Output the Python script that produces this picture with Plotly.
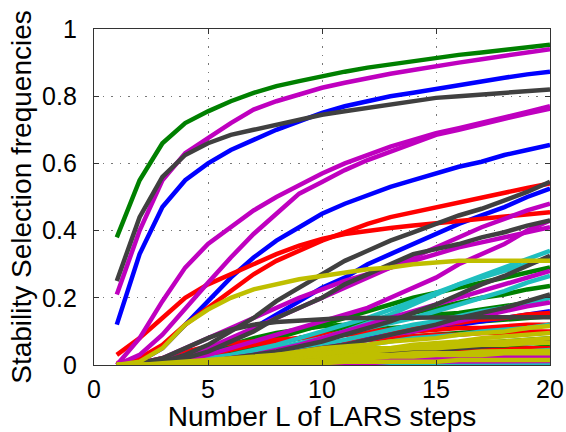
import plotly.graph_objects as go

steps = list(range(1, 21))

green_series = [
    [0.38,0.55,0.66,0.72,0.755,0.785,0.81,0.83,0.845,0.86,0.873,0.885,0.895,0.905,0.915,0.923,0.93,0.938,0.946,0.953],
    [0,0,0.005,0.015,0.03,0.045,0.06,0.08,0.1,0.12,0.14,0.16,0.18,0.2,0.215,0.23,0.245,0.26,0.275,0.29],
    [0,0,0.005,0.01,0.02,0.035,0.05,0.065,0.08,0.095,0.11,0.125,0.14,0.155,0.17,0.185,0.2,0.21,0.225,0.235],
    [0,0,0.01,0.02,0.04,0.06,0.08,0.095,0.105,0.115,0.12,0.13,0.135,0.14,0.15,0.155,0.165,0.175,0.185,0.2],
    [0,0,0,0.01,0.02,0.035,0.05,0.065,0.08,0.09,0.1,0.105,0.11,0.115,0.12,0.125,0.13,0.135,0.14,0.145],
    [0,0,0,0.005,0.01,0.02,0.03,0.04,0.05,0.06,0.07,0.075,0.08,0.085,0.09,0.095,0.1,0.105,0.11,0.12],
    [0,0,0,0,0.005,0.01,0.015,0.02,0.025,0.03,0.035,0.04,0.045,0.05,0.055,0.06,0.065,0.07,0.075,0.08],
    [0,0,0,0,0,0.005,0.005,0.01,0.01,0.015,0.015,0.02,0.02,0.02,0.025,0.025,0.025,0.03,0.03,0.03],
    [0,0,0,0,0,0,0.005,0.01,0.015,0.02,0.025,0.03,0.035,0.035,0.04,0.045,0.045,0.05,0.05,0.055],
]

blue_series = [
    [0.12,0.33,0.47,0.55,0.6,0.64,0.67,0.7,0.725,0.75,0.77,0.785,0.8,0.81,0.822,0.833,0.845,0.855,0.865,0.873],
    [0,0.01,0.05,0.12,0.19,0.26,0.32,0.37,0.41,0.45,0.48,0.505,0.53,0.55,0.57,0.59,0.605,0.625,0.64,0.655],
    [0,0,0.005,0.02,0.04,0.07,0.11,0.15,0.19,0.23,0.26,0.3,0.33,0.36,0.39,0.42,0.445,0.47,0.5,0.525],
    [0,0,0,0,0.005,0.01,0.02,0.03,0.045,0.06,0.07,0.08,0.09,0.1,0.11,0.12,0.13,0.14,0.15,0.16],
    [0,0,0,0,0,0,0.005,0.005,0.01,0.01,0.01,0.015,0.015,0.015,0.02,0.02,0.02,0.02,0.02,0.022],
    [0,0,0,0,0,0.005,0.01,0.015,0.02,0.025,0.03,0.035,0.04,0.045,0.05,0.055,0.06,0.065,0.065,0.07],
]

red_series = [
    [0.03,0.08,0.14,0.2,0.24,0.27,0.3,0.33,0.355,0.375,0.39,0.4,0.408,0.415,0.422,0.43,0.437,0.443,0.45,0.455],
    [0.005,0.02,0.06,0.12,0.17,0.22,0.27,0.31,0.34,0.37,0.395,0.42,0.44,0.455,0.47,0.485,0.5,0.513,0.527,0.54],
    [0,0,0.01,0.02,0.03,0.045,0.06,0.07,0.08,0.09,0.095,0.1,0.105,0.11,0.12,0.125,0.135,0.14,0.15,0.155],
    [0,0,0,0.01,0.02,0.03,0.04,0.05,0.06,0.065,0.07,0.075,0.08,0.085,0.09,0.09,0.095,0.095,0.1,0.1],
    [0,0.005,0.02,0.04,0.055,0.065,0.07,0.075,0.08,0.085,0.09,0.095,0.1,0.1,0.105,0.11,0.11,0.115,0.12,0.12],
    [0,0,0,0,0.005,0.01,0.015,0.02,0.025,0.03,0.035,0.04,0.045,0.05,0.055,0.06,0.06,0.065,0.07,0.07],
    [0,0,0,0,0,0.005,0.01,0.015,0.02,0.025,0.03,0.03,0.035,0.035,0.04,0.04,0.045,0.045,0.05,0.05],
]

cyan_series = [
    [0,0,0,0.005,0.01,0.02,0.03,0.045,0.06,0.08,0.1,0.125,0.15,0.18,0.21,0.24,0.265,0.29,0.315,0.34],
    [0,0,0.005,0.01,0.02,0.03,0.045,0.06,0.08,0.1,0.12,0.14,0.165,0.19,0.215,0.24,0.26,0.28,0.3,0.32],
    [0,0,0,0.005,0.01,0.02,0.035,0.05,0.065,0.08,0.095,0.11,0.125,0.14,0.16,0.18,0.2,0.22,0.245,0.265],
    [0,0,0,0,0.005,0.01,0.02,0.03,0.045,0.06,0.075,0.09,0.105,0.12,0.13,0.145,0.16,0.17,0.185,0.2],
    [0,0,0,0,0,0.005,0.01,0.02,0.03,0.04,0.05,0.06,0.07,0.08,0.085,0.09,0.1,0.105,0.11,0.12],
    [0,0,0,0,0,0,0,0,0.005,0.005,0.005,0.005,0.005,0.005,0.005,0.005,0.005,0.005,0.005,0.005],
    [0,0,0,0,0,0,0.005,0.01,0.01,0.015,0.02,0.02,0.025,0.03,0.03,0.035,0.035,0.04,0.04,0.045],
]

magenta_series = [
    [0.21,0.4,0.55,0.63,0.675,0.72,0.76,0.785,0.805,0.825,0.84,0.855,0.867,0.878,0.89,0.9,0.91,0.92,0.93,0.94],
    [0,0.08,0.19,0.29,0.36,0.41,0.46,0.5,0.535,0.57,0.6,0.625,0.65,0.67,0.69,0.705,0.72,0.737,0.753,0.77],
    [0,0.03,0.09,0.17,0.245,0.32,0.39,0.45,0.51,0.545,0.58,0.61,0.635,0.66,0.685,0.7,0.718,0.733,0.748,0.763],
    [0,0,0.01,0.03,0.05,0.08,0.11,0.14,0.17,0.2,0.23,0.26,0.29,0.32,0.35,0.38,0.41,0.435,0.46,0.48],
    [0,0.005,0.02,0.05,0.08,0.11,0.14,0.17,0.2,0.225,0.25,0.27,0.29,0.31,0.33,0.35,0.365,0.38,0.395,0.41],
    [0,0,0.005,0.015,0.03,0.05,0.07,0.09,0.11,0.13,0.15,0.17,0.2,0.23,0.26,0.3,0.33,0.36,0.4,0.43],
    [0,0,0,0.005,0.01,0.02,0.03,0.045,0.06,0.08,0.1,0.12,0.14,0.16,0.18,0.2,0.22,0.24,0.26,0.28],
    [0,0,0,0.005,0.01,0.015,0.02,0.03,0.04,0.05,0.06,0.075,0.09,0.1,0.115,0.13,0.145,0.16,0.175,0.186],
    [0,0,0,0,0,0,0.005,0.005,0.01,0.01,0.01,0.015,0.015,0.015,0.02,0.02,0.02,0.025,0.025,0.027],
    [0,0,0,0,0,0,0,0,0.005,0.005,0.005,0.005,0.01,0.01,0.01,0.01,0.01,0.01,0.012,0.012],
]

gray_series = [
    [0.25,0.44,0.56,0.625,0.66,0.685,0.7,0.715,0.73,0.745,0.755,0.765,0.775,0.785,0.795,0.8,0.805,0.81,0.815,0.82],
    [0,0,0.01,0.03,0.06,0.1,0.14,0.19,0.23,0.27,0.31,0.34,0.37,0.395,0.42,0.445,0.465,0.49,0.515,0.545],
    [0,0,0.005,0.02,0.04,0.07,0.1,0.14,0.17,0.2,0.24,0.27,0.3,0.33,0.345,0.36,0.38,0.395,0.415,0.43],
    [0,0.005,0.02,0.05,0.08,0.105,0.12,0.128,0.133,0.137,0.14,0.14,0.141,0.141,0.142,0.142,0.142,0.142,0.142,0.142],
    [0,0,0,0.005,0.01,0.02,0.03,0.04,0.055,0.07,0.09,0.11,0.13,0.155,0.18,0.21,0.24,0.265,0.295,0.325],
    [0,0,0,0,0.005,0.01,0.02,0.03,0.04,0.05,0.06,0.075,0.09,0.105,0.12,0.14,0.155,0.17,0.19,0.21],
    [0,0,0,0,0,0,0.005,0.01,0.015,0.02,0.025,0.03,0.035,0.04,0.045,0.05,0.055,0.06,0.065,0.07],
]

yellow_series = [
    [0,0.01,0.05,0.12,0.165,0.2,0.225,0.24,0.255,0.265,0.275,0.285,0.29,0.3,0.305,0.31,0.31,0.31,0.31,0.31],
    [0,0,0,0.005,0.01,0.015,0.02,0.03,0.04,0.05,0.055,0.06,0.07,0.075,0.08,0.09,0.095,0.1,0.11,0.116],
    [0,0,0.005,0.01,0.015,0.02,0.025,0.03,0.035,0.04,0.045,0.05,0.05,0.055,0.06,0.065,0.07,0.07,0.075,0.08],
    [0,0,0,0,0.005,0.01,0.015,0.02,0.025,0.03,0.035,0.04,0.045,0.05,0.05,0.055,0.06,0.06,0.065,0.066],
    [0,0,0,0,0,0.005,0.01,0.015,0.02,0.02,0.025,0.03,0.03,0.035,0.035,0.035,0.04,0.04,0.04,0.042],
    [0,0,0,0,0,0,0,0.005,0.005,0.005,0.01,0.01,0.01,0.01,0.01,0.015,0.015,0.015,0.015,0.015],
    [0,0,0,0.005,0.01,0.015,0.02,0.025,0.03,0.035,0.04,0.045,0.05,0.06,0.065,0.07,0.08,0.085,0.09,0.095],
    [0,0,0,0,0,0.005,0.005,0.01,0.01,0.015,0.02,0.02,0.025,0.025,0.03,0.03,0.03,0.035,0.035,0.035],
]

x_ticks = [0, 5, 10, 15, 20]
y_ticks = [0, 0.2, 0.4, 0.6, 0.8, 1]
y_tick_labels = ["0", "0.2", "0.4", "0.6", "0.8", "1"]

groups = [
    (green_series, "#008000"),
    (blue_series, "#0000FF"),
    (red_series, "#FF0000"),
    (cyan_series, "#1FBFBF"),
    (magenta_series, "#BF00BF"),
    (gray_series, "#404040"),
    (yellow_series, "#BFBF00"),
]

fig = go.Figure()
for series_list, color in groups:
    for ys in series_list:
        fig.add_trace(go.Scatter(x=steps, y=ys, mode="lines",
                                 line=dict(color=color, width=4.5),
                                 showlegend=False, hoverinfo="skip"))

font_family = "Liberation Sans, Arial, sans-serif"
fig.update_layout(
    width=566, height=432,
    margin=dict(l=94, r=16, t=29, b=67),
    paper_bgcolor="white", plot_bgcolor="white",
    font=dict(family=font_family, size=25, color="black"),
    showlegend=False,
)
axis_common = dict(
    automargin=False,
    showline=True, linecolor="#333333", linewidth=1.2, mirror="ticks",
    ticks="inside", ticklen=5, tickcolor="#333333",
    showgrid=True, gridcolor="#777777", griddash="1.5px,7px", gridwidth=1,
    zeroline=False,
    tickfont=dict(family=font_family, size=25, color="black"),
)
fig.update_xaxes(range=[0, 20], tickvals=x_ticks, ticklabelstandoff=2,
                 title=dict(text="Number L of LARS steps", font=dict(size=28), standoff=5),
                 **axis_common)
fig.update_yaxes(range=[0, 1], tickvals=y_ticks, ticktext=y_tick_labels, ticklabelstandoff=11,
                 title=dict(text="Stability Selection frequencies", font=dict(size=28), standoff=2),
                 **axis_common)

fig.write_html("out.html",
               config={"displayModeBar": False, "staticPlot": True},
               post_script="document.body.style.margin='0';document.body.style.overflow='hidden';")
